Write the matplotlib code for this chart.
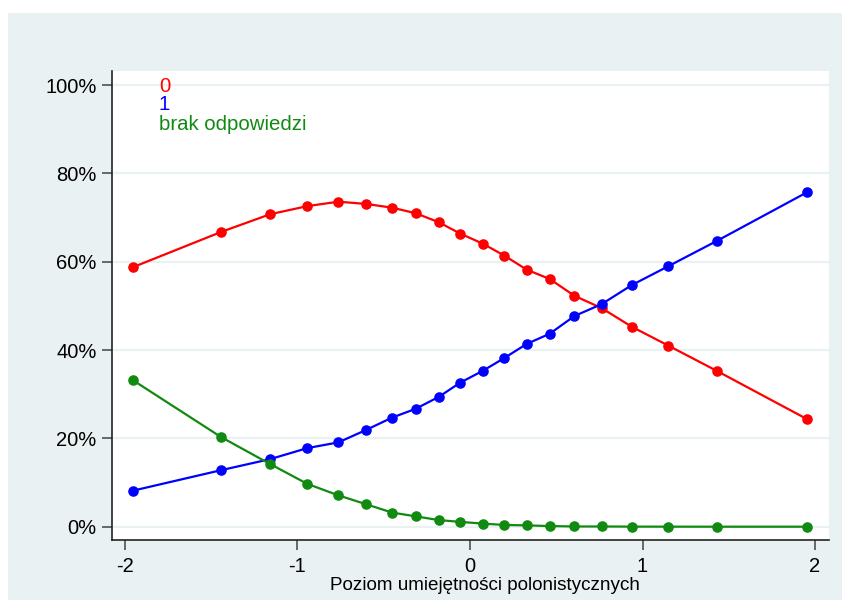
import matplotlib
matplotlib.use("Agg")
import matplotlib.pyplot as plt
from matplotlib.patches import Rectangle

plt.rcParams['font.family'] = ['Liberation Sans', 'DejaVu Sans']

# Data
x_vals = [-1.955, -1.443, -1.159, -0.943, -0.763, -0.603, -0.452, -0.315, -0.181, -0.058,
          0.074, 0.199, 0.329, 0.462, 0.605, 0.763, 0.937, 1.150, 1.430, 1.952]
red_0 = [58.75, 66.75, 70.76, 72.6, 73.6, 73.1, 72.25, 71.0, 68.95, 66.4,
         64.1, 61.4, 58.2, 56.1, 52.3, 49.5, 45.3, 41.0, 35.3, 24.4]
blue_1 = [8.15, 12.8, 15.3, 17.8, 19.1, 21.9, 24.7, 26.7, 29.4, 32.6,
          35.3, 38.2, 41.4, 43.7, 47.7, 50.4, 54.7, 59.0, 64.7, 75.7]
green_na = [33.2, 20.3, 14.2, 9.7, 7.1, 5.1, 3.2, 2.35, 1.5, 1.1,
            0.7, 0.4, 0.3, 0.15, 0.05, 0.05, 0.02, 0.01, 0.0, 0.0]
series_names = ['0', '1', 'brak odpowiedzi']
series_colors = ['#ff0000', '#0000ff', '#108a10']
x_ticks = [-2, -1, 0, 1, 2]
y_ticks = [0, 20, 40, 60, 80, 100]
y_ticklabels = ['0%', '20%', '40%', '60%', '80%', '100%']
x_label = 'Poziom umiejętności polonistycznych'

W, H = 842, 614
fig = plt.figure(figsize=(W / 100, H / 100), dpi=100)
fig.patch.set_facecolor('white')
panel_color = '#eaf1f3'
fig.patches.append(Rectangle((8 / W, 1 - 600 / H), (842 - 8) / W, (600 - 13) / H,
                             transform=fig.transFigure, facecolor=panel_color,
                             edgecolor='none', zorder=-10))

ax = fig.add_axes([111.7 / W, 1 - 540 / H, (829 - 111.7) / W, (540 - 71) / H])
ax.set_zorder(1)
ax.set_facecolor('white')

for y, c in zip([red_0, blue_1, green_na], series_colors):
    ax.plot(x_vals, y, color=c, lw=1.6, marker='o', markersize=6.6,
            markeredgecolor=c, markerfacecolor=c, zorder=3, clip_on=False)

ax.set_xlim(-2.077, 2.081)
ax.set_ylim(-3.01, 103.2)
ax.set_xticks(x_ticks)
ax.set_xticklabels([str(t) for t in x_ticks])
ax.set_yticks(y_ticks)
ax.set_yticklabels(y_ticklabels)
ax.grid(axis='y', color=panel_color, lw=1.6, zorder=1)
ax.set_axisbelow(True)

for s in ['top', 'right']:
    ax.spines[s].set_visible(False)
for s in ['left', 'bottom']:
    ax.spines[s].set_color('#222222')
    ax.spines[s].set_linewidth(1.2)
ax.tick_params(axis='both', direction='out', length=7, width=1.1, color='#444444',
               labelsize=14.5, labelcolor='black')
ax.tick_params(axis='x', pad=5)
ax.tick_params(axis='y', pad=4)
ax.set_xlabel(x_label, fontsize=13.6, va='center')
ax.xaxis.set_label_coords(0.52, -0.096)

# legend texts in plot
for i, (name, c) in enumerate(zip(series_names, series_colors)):
    fig.text(159 / W, 1 - (86 + i * 19) / H, name, color=c, fontsize=14.7,
             ha='left', va='center', zorder=5)

fig.savefig('out.png', dpi=100, facecolor=fig.get_facecolor())
